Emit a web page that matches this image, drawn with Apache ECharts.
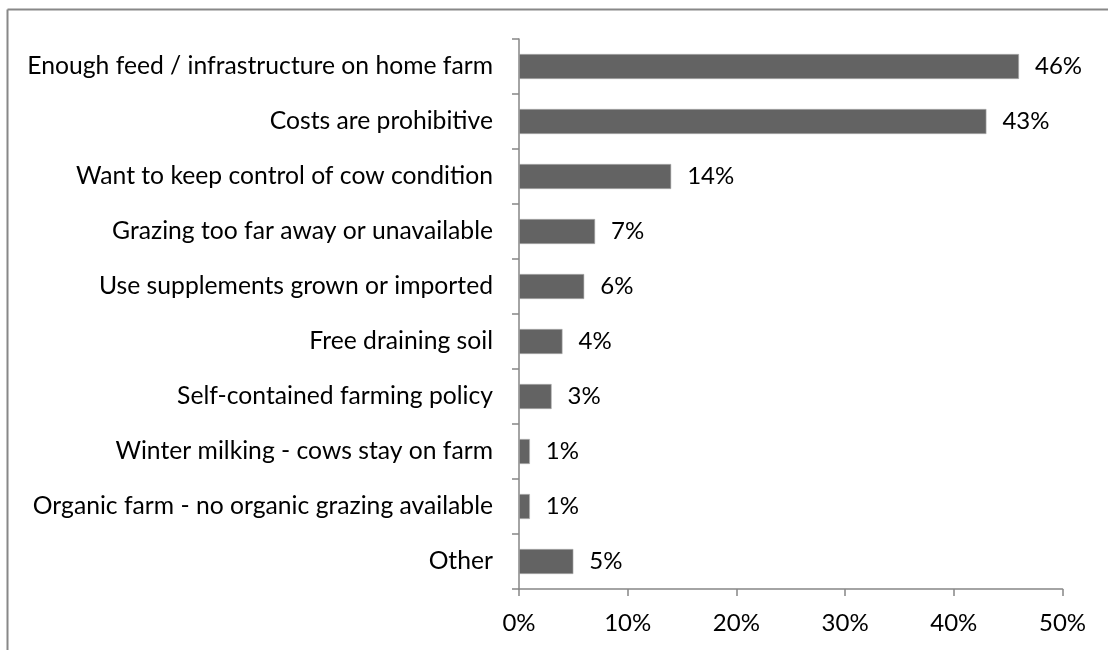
<!DOCTYPE html>
<html>
<head>
<meta charset="utf-8">
<script src="https://cdn.jsdelivr.net/npm/echarts@6/dist/echarts.min.js"></script>
<style>
html,body{margin:0;padding:0;background:#fff;}
#chart{width:1108px;height:650px;}
</style>
</head>
<body>
<div id="chart"></div>
<script>
const categories = [
  "Enough feed / infrastructure on home farm",
  "Costs are prohibitive",
  "Want to keep control of cow condition",
  "Grazing too far away or unavailable",
  "Use supplements grown or imported",
  "Free draining soil",
  "Self-contained farming policy",
  "Winter milking - cows stay on farm",
  "Organic farm - no organic grazing available",
  "Other"
];
const values = [46, 43, 14, 7, 6, 4, 3, 1, 1, 5];
const xTicks = [0, 10, 20, 30, 40, 50];

const FONT = "Lato, 'Open Sans', sans-serif";
const FS = 24;
const chart = echarts.init(document.getElementById('chart'));
chart.setOption({
  animation: false,
  backgroundColor: '#ffffff',
  graphic: [
    { type: 'line', shape: { x1: 7.5, y1: 9.5, x2: 1108, y2: 9.5 }, style: { stroke: '#888888', lineWidth: 2 } },
    { type: 'line', shape: { x1: 7.5, y1: 9.5, x2: 7.5, y2: 650 }, style: { stroke: '#888888', lineWidth: 2 } }
  ],
  grid: { left: 519, right: 45.5, top: 39, bottom: 61, containLabel: false },
  xAxis: {
    type: 'value',
    min: xTicks[0],
    max: xTicks[xTicks.length - 1],
    interval: 10,
    splitLine: { show: false },
    axisLine: { show: true, lineStyle: { color: '#868686', width: 1.5 } },
    axisTick: { show: true, length: 7, lineStyle: { color: '#868686', width: 1.5 } },
    axisLabel: { formatter: '{value}%', color: '#000', fontSize: FS, fontFamily: FONT, margin: 22 }
  },
  yAxis: {
    type: 'category',
    inverse: true,
    data: categories,
    axisLine: { show: true, lineStyle: { color: '#868686', width: 1.5 } },
    axisTick: { show: true, length: 7, lineStyle: { color: '#868686', width: 1.5 } },
    axisLabel: { color: '#000', fontSize: 24.7, fontFamily: FONT, margin: 26 }
  },
  series: [{
    type: 'bar',
    data: values,
    barWidth: 25,
    itemStyle: { color: '#636363', borderColor: '#b0b0b0', borderWidth: 0.6 },
    label: {
      show: true, position: 'right', distance: 16,
      formatter: '{c}%', color: '#000', fontSize: FS, fontFamily: FONT
    }
  }]
});
</script>
</body>
</html>
